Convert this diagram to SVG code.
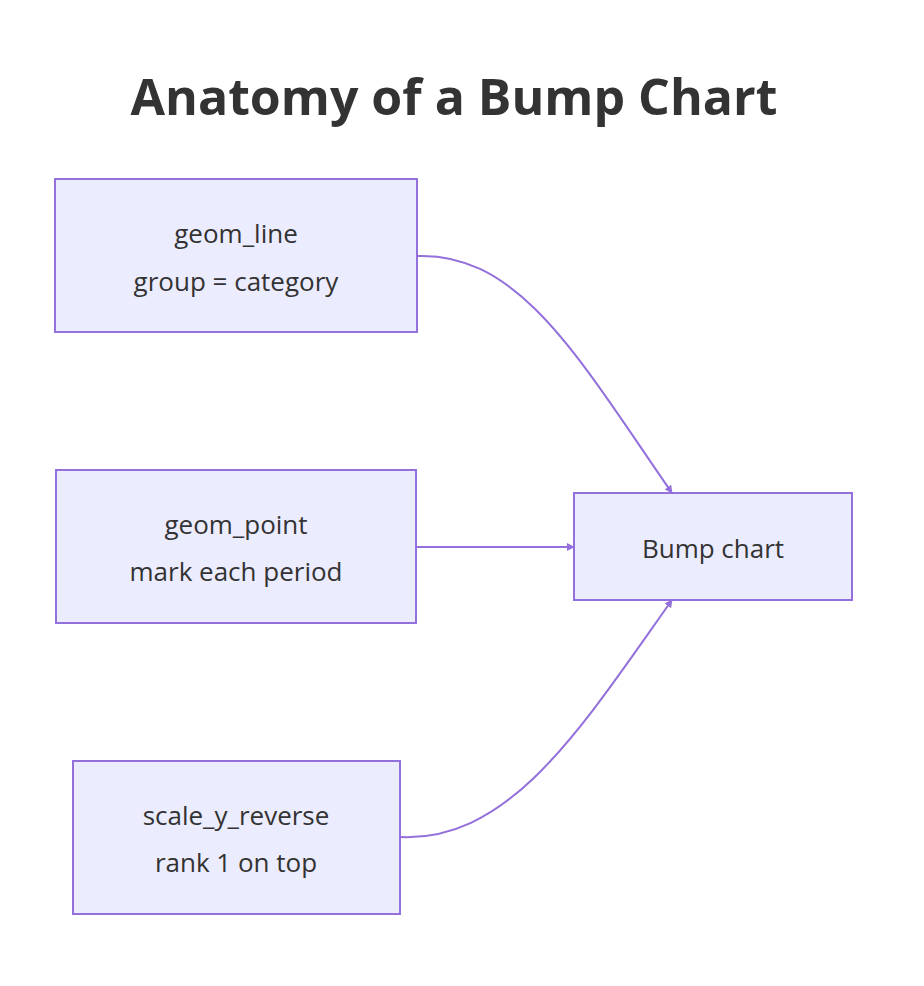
<svg xmlns="http://www.w3.org/2000/svg" width="924" height="986" viewBox="0 0 924 986">
<style>
.n{fill:#ECECFF;stroke:#9370DB;stroke-width:2}
.t{font-family:"Open Sans","Noto Sans",sans-serif;font-size:26px;fill:#333;text-anchor:middle}
.e{fill:none;stroke:#9370DB;stroke-width:2}
</style>
<defs><marker id="a" viewBox="0 0 10 10" refX="9" refY="5" markerWidth="8" markerHeight="8" markerUnits="userSpaceOnUse" orient="auto"><path d="M0,0L10,5L0,10z" fill="#9370DB"/></marker></defs>
<rect width="924" height="986" fill="#fff"/>
<text x="454" y="115" font-family="Open Sans,Noto Sans,sans-serif" font-size="50" font-weight="bold" fill="#333" text-anchor="middle">Anatomy of a Bump Chart</text>
<g id="connectors">
<path class="e" d="M417,256 C520,252 580,360 672,493" marker-end="url(#a)"/>
<path class="e" d="M417,547 L574,547" marker-end="url(#a)"/>
<path class="e" d="M400,837 C510,842 580,730 672,600" marker-end="url(#a)"/>
</g>
<g id="geom_line"><rect class="n" x="55" y="179" width="362" height="153"/><text class="t" x="236" y="243">geom_line</text><text class="t" x="236" y="291">group = category</text></g>
<g id="geom_point"><rect class="n" x="56" y="470" width="360" height="153"/><text class="t" x="236" y="534">geom_point</text><text class="t" x="236" y="581">mark each period</text></g>
<g id="scale_y_reverse"><rect class="n" x="73" y="761" width="327" height="153"/><text class="t" x="236" y="825">scale_y_reverse</text><text class="t" x="236" y="872">rank 1 on top</text></g>
<g id="bump"><rect class="n" x="574" y="493" width="278" height="107"/><text class="t" x="713" y="558">Bump chart</text></g>
</svg>
